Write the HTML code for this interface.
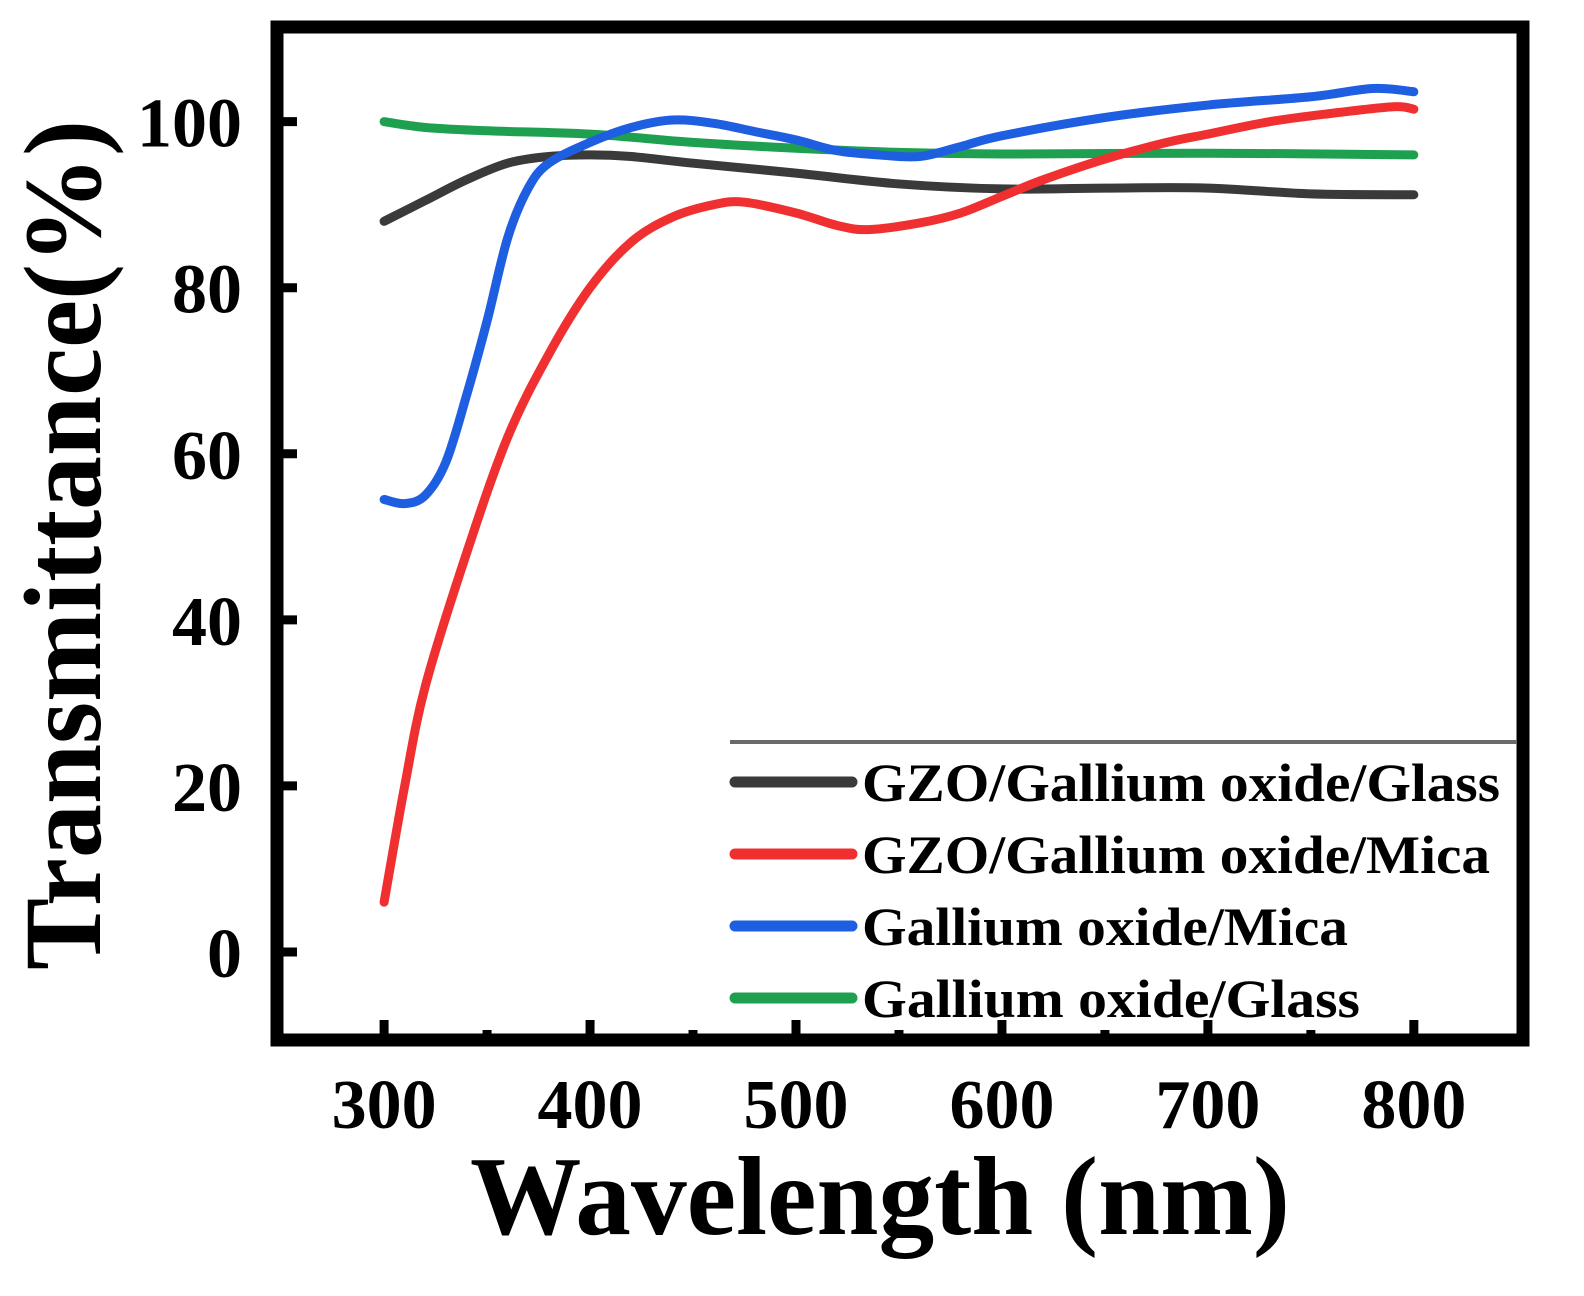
<!DOCTYPE html>
<html><head><meta charset="utf-8"><style>
html,body{margin:0;padding:0;background:#fff;}
svg{display:block;font-family:"Liberation Serif",serif;font-weight:bold;}
</style></head><body>
<svg id="chart" width="1584" height="1296" viewBox="0 0 1584 1296">
<g id="axes"></g>
<g id="series"></g>
<g id="legend"></g>
<text x="0" y="0" transform="translate(100,545) rotate(-90)" text-anchor="middle" font-size="110" textLength="850" lengthAdjust="spacingAndGlyphs">Transmittance(%)</text>
<text x="880" y="1234" text-anchor="middle" font-size="112" textLength="820" lengthAdjust="spacingAndGlyphs">Wavelength (nm)</text>
</svg>
<script>
const xTicks = [300,400,500,600,700,800];
const yTicks = [0,20,40,60,80,100];
const seriesNames = ["GZO/Gallium oxide/Glass","GZO/Gallium oxide/Mica","Gallium oxide/Mica","Gallium oxide/Glass"];
const seriesColors = ["#3a3a3a","#f03030","#1e5ee0","#1fa050"];
const blackX = [300,320,340,360,380,400,420,450,500,550,600,650,700,750,800];
const blackY = [88,90.5,93,95,95.8,96,95.8,95,93.8,92.5,91.9,92,92,91.3,91.2];
const redX = [300,310,320,340,360,380,400,420,440,460,475,500,520,535,560,580,600,620,650,680,700,730,760,790,800];
const redY = [6,20,32,48,62,72,80,85.5,88.5,90,90.3,89,87.5,87,87.8,89,91,93,95.5,97.5,98.5,100,101,101.8,101.5];
const blueX = [300,310,320,330,340,350,360,370,380,400,420,440,460,480,500,520,540,560,580,600,650,700,750,780,800];
const blueY = [54.5,54,55,59,67,76,86,92,95,97.5,99.3,100.2,99.8,98.8,97.8,96.5,96,95.8,97,98.3,100.5,102,103,104,103.6];
const greenX = [300,320,350,400,450,500,550,600,700,800];
const greenY = [100,99.3,98.9,98.5,97.5,96.8,96.3,96.1,96.2,96];
const legendWidths = [638,628,486,498];

const NS="http://www.w3.org/2000/svg";
const L=277,R=1523,T=27,B=1040;
const xMin=248,xMax=853,yMin=-10.6,yMax=111.4;
function sx(v){return L+(v-xMin)/(xMax-xMin)*(R-L);}
function sy(v){return B-(v-yMin)/(yMax-yMin)*(B-T);}
function mk(tag,attrs,parent){const e=document.createElementNS(NS,tag);for(const k in attrs)e.setAttribute(k,attrs[k]);parent.appendChild(e);return e;}
const axes=document.getElementById('axes');
const frame=mk('rect',{x:L,y:T,width:R-L,height:B-T,fill:'none',stroke:'#000','stroke-width':13},axes);


xTicks.forEach((v,i)=>{
  const t=mk('line',{x1:sx(v),x2:sx(v),y1:B,y2:B-20,stroke:'#000','stroke-width':9},axes);
  
  
  if(i<xTicks.length-1){
    const m=mk('line',{x1:sx(v+50),x2:sx(v+50),y1:B,y2:B-10,stroke:'#000','stroke-width':9},axes);
    
    
  }
  const lb=mk('text',{x:sx(v),y:1128,'text-anchor':'middle','font-size':70},axes);
  lb.textContent=v;
  
  
});
yTicks.forEach((v,i)=>{
  const t=mk('line',{x1:L,x2:L+20,y1:sy(v),y2:sy(v),stroke:'#000','stroke-width':9},axes);
  
  
  const lb=mk('text',{x:242,y:sy(v)+25,'text-anchor':'end','font-size':70},axes);
  lb.textContent=v;
  
  
});
const sg=document.getElementById('series');
const data=[[blackX,blackY],[redX,redY],[blueX,blueY],[greenX,greenY]];
const drawOrder=[3,0,1,2];
drawOrder.forEach(i=>{
  const [xs,ys]=data[i];
  const pts=xs.map((x,j)=>[sx(x),sy(ys[j])]);
  let d='M'+pts[0][0]+','+pts[0][1];
  for(let j=0;j<pts.length-1;j++){
    const p0=pts[Math.max(0,j-1)],p1=pts[j],p2=pts[j+1],p3=pts[Math.min(pts.length-1,j+2)];
    const c1=[p1[0]+(p2[0]-p0[0])/6,p1[1]+(p2[1]-p0[1])/6];
    const c2=[p2[0]-(p3[0]-p1[0])/6,p2[1]-(p3[1]-p1[1])/6];
    d+=' C'+c1[0]+','+c1[1]+' '+c2[0]+','+c2[1]+' '+p2[0]+','+p2[1];
  }
  const p=mk('path',{d:d,fill:'none',stroke:seriesColors[i],'stroke-width':9,'stroke-linecap':'round','stroke-linejoin':'round'},sg);
  
  
});
const lg=document.getElementById('legend');
const sep=mk('line',{x1:730,x2:1517,y1:742,y2:742,stroke:'#6a6a6a','stroke-width':4},lg);


seriesNames.forEach((n,i)=>{
  const y=782+i*72;
  const ln=mk('line',{x1:735,x2:852,y1:y,y2:y,stroke:seriesColors[i],'stroke-width':11,'stroke-linecap':'round'},lg);
  
  
  const tx=mk('text',{x:862,y:y+19,'font-size':54,textLength:legendWidths[i],lengthAdjust:'spacingAndGlyphs'},lg);
  tx.textContent=n;
  
  
});
</script>
</body></html>
